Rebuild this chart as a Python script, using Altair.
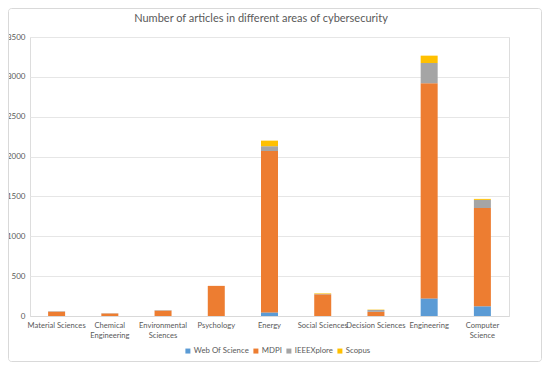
import altair as alt
import pandas as pd

title_text = "Number of articles in different areas of cybersecurity"
categories = ["Material Sciences", "Chemical Engineering", "Environmental Sciences",
              "Psychology", "Energy", "Social Sciences", "Decision Sciences",
              "Engineering", "Computer Science"]
series = ["Web Of Science", "MDPI", "IEEEXplore", "Scopus"]
wos = [0, 0, 0, 0, 45, 0, 0, 221, 122]
mdpi = [55, 32, 68, 378, 2025, 272, 52, 2699, 1233]
ieee = [5, 3, 5, 0, 60, 5, 24, 254, 102]
scopus = [0, 0, 0, 0, 70, 7, 4, 92, 12]
colors = ["#5B9BD5", "#ED7D31", "#A5A5A5", "#FFC000"]

rows = []
for i, c in enumerate(categories):
    for k, (s, vals) in enumerate(zip(series, [wos, mdpi, ieee, scopus])):
        rows.append({"Area": c, "Source": s, "Count": vals[i], "rank": k})
df = pd.DataFrame(rows)

FONT = "Lato"
GREY = "#595959"

label_expr = ("datum.value == 'Chemical Engineering' ? ['Chemical', 'Engineering'] : "
              "datum.value == 'Environmental Sciences' ? ['Environmental', 'Sciences'] : "
              "datum.value == 'Computer Science' ? ['Computer', 'Science'] : datum.label")

bars = alt.Chart(df).mark_bar(size=17).encode(
    x=alt.X("Area:N", sort=categories, title=None,
            scale=alt.Scale(paddingInner=0.675, paddingOuter=0.3375),
            axis=alt.Axis(labelAngle=0, labelExpr=label_expr, ticks=False,
                          domainColor="#D9D9D9", labelColor=GREY, labelFont=FONT,
                          labelFontSize=7.6, labelPadding=5, labelLineHeight=10)),
    y=alt.Y("Count:Q", title=None, stack="zero",
            scale=alt.Scale(domain=[0, 3500]),
            axis=alt.Axis(values=list(range(0, 3501, 500)), format="d", ticks=False,
                          domain=False, gridColor="#E6E6E6", labelColor=GREY,
                          labelFont=FONT, labelFontSize=8, labelPadding=5)),
    color=alt.Color("Source:N", sort=series,
                    scale=alt.Scale(domain=series, range=colors),
                    legend=alt.Legend(title=None, orient="none", direction="horizontal",
                                      legendX=154, legendY=310, symbolType="square",
                                      symbolSize=25, symbolStrokeWidth=0,
                                      labelFont=FONT, labelFontSize=7.8, labelColor=GREY,
                                      columnPadding=3, labelOffset=2)),
    order=alt.Order("rank:Q"),
)

border = alt.Chart(pd.DataFrame({"a": [0]})).mark_rect(
    fill="transparent", stroke="#D9D9D9", strokeWidth=1, cornerRadius=3
).encode(x=alt.value(-21.5), x2=alt.value(511.5), y=alt.value(-28.5), y2=alt.value(324.5))

title = alt.Chart(pd.DataFrame({"t": [title_text]})).mark_text(
    font=FONT, fontSize=11, color=GREY, align="center", baseline="alphabetic"
).encode(text="t:N", x=alt.value(231), y=alt.value(-15))

chart = alt.layer(border, bars, title).properties(
    width=479, height=279,
    autosize=alt.AutoSizeParams(type="none"),
    padding={"left": 22, "top": 29, "right": 33, "bottom": 46},
).configure_view(stroke=None).configure(background="white")

chart.save("out.html", embed_options={"renderer": "svg", "actions": False})
